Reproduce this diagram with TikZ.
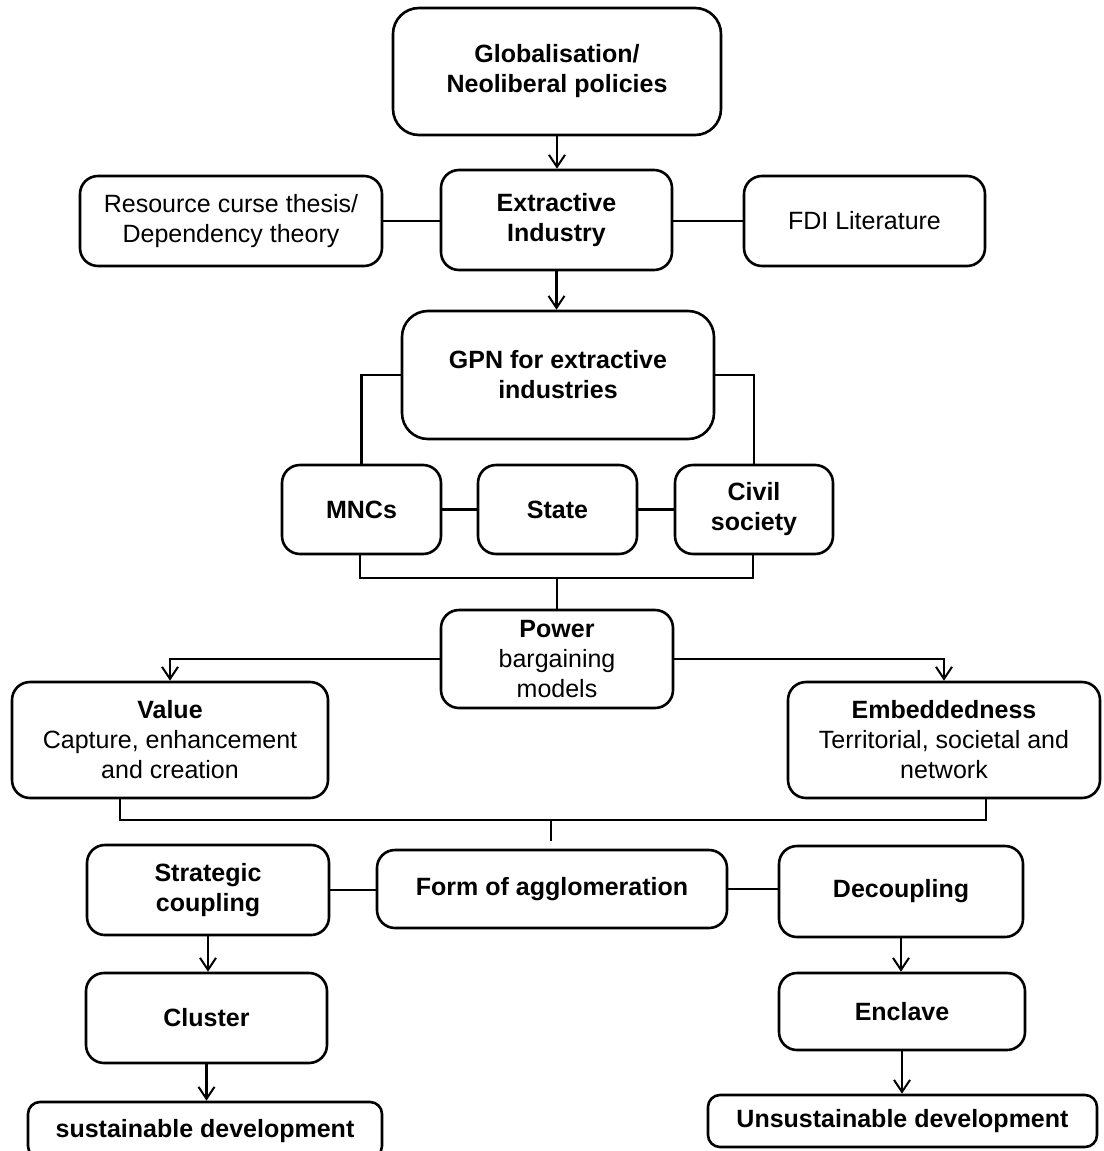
\documentclass[tikz,border=0pt]{standalone}
\usepackage{fontspec}
\setmainfont{Liberation Sans}
\usetikzlibrary{arrows.meta}
\begin{document}
\begin{tikzpicture}[x=1pt,y=-1pt,
  box/.style={draw,line width=2.6pt,rounded corners=18pt,align=center,inner sep=0pt,
    font=\fontsize{25}{30}\selectfont},
  wire/.style={line width=2.4pt},
  arr/.style={wire,-{Straight Barb[length=12pt,width=16pt,line width=2pt]}}]
\useasboundingbox (0,0) rectangle (1103,1151);

% boxes
\node[box,rounded corners=26pt,minimum width=328pt,minimum height=127pt] (glob) at (557,71.5) {\bfseries Globalisation/\\\bfseries Neoliberal policies};
\node[box,minimum width=302pt,minimum height=90pt] (res) at (231,221) {Resource curse thesis/\\Dependency theory};
\node[box,minimum width=231pt,minimum height=100pt] (ext) at (556.5,220) {\bfseries Extractive\\\bfseries Industry};
\node[box,minimum width=241pt,minimum height=90pt] (fdi) at (864.5,221) {FDI Literature};
\node[box,rounded corners=26pt,minimum width=312pt,minimum height=128pt] (gpn) at (558,375) {\bfseries GPN for extractive\\\bfseries industries};
\node[box,minimum width=159pt,minimum height=89pt] (mnc) at (361.5,509.5) {\bfseries MNCs};
\node[box,minimum width=159pt,minimum height=89pt] (state) at (557.5,509.5) {\bfseries State};
\node[box,minimum width=158pt,minimum height=89pt] (civil) at (754,509.5) {\bfseries Civil\\\bfseries society};
\node[box,minimum width=232pt,minimum height=98pt] (power) at (557,659) {\bfseries Power\\bargaining\\models};
\node[box,minimum width=316pt,minimum height=116pt] (value) at (170,740) {\bfseries Value\\Capture, enhancement\\and creation};
\node[box,minimum width=312pt,minimum height=116pt] (embed) at (944,740) {\bfseries Embeddedness\\Territorial, societal and\\network};
\node[box,minimum width=242pt,minimum height=90pt] (strat) at (208,890) {\bfseries Strategic\\\bfseries coupling};
\node[box,minimum width=350pt,minimum height=78pt] (form) at (552,889) {\bfseries Form of agglomeration};
\node[box,minimum width=244pt,minimum height=91pt] (decoup) at (901,891.5) {\bfseries Decoupling};
\node[box,minimum width=241pt,minimum height=90pt] (cluster) at (206.5,1018) {\bfseries Cluster};
\node[box,minimum width=246pt,minimum height=77pt] (enclave) at (902,1011.5) {\bfseries Enclave};
\node[box,rounded corners=12pt,minimum width=354pt,minimum height=56pt,text depth=0pt] (sust) at (205,1130) {\raisebox{3pt}{\bfseries sustainable development}};
\node[box,rounded corners=12pt,minimum width=389pt,minimum height=52pt] (unsust) at (902.5,1121) {\bfseries Unsustainable development};

% arrows down the main column
\draw[arr] (glob.south) -- (glob.south |- ext.north);
\draw[arr] (ext.south) -- (ext.south |- gpn.north);

% side links of the extractive industry
\draw[wire] (res.east) -- (res.east -| ext.west);
\draw[wire] (ext.east |- fdi.west) -- (fdi.west);

% GPN actors
\draw[wire] (gpn.west) -| (mnc.north);
\draw[wire] (gpn.east) -| (civil.north);
\draw[wire] (mnc.east) -- (state.west);
\draw[wire] (state.east) -- (civil.west);

% actors joined towards power
\coordinate (actj) at (557,578);
\draw[wire] ([xshift=-1.5pt]mnc.south) |- (actj) -| ([xshift=-1pt]civil.south);
\draw[wire] (actj) -- (power.north);

% power splits into value and embeddedness
\draw[arr] (power.west) -| (value.north);
\draw[arr] (power.east) -| (embed.north);

% value and embeddedness joined
\coordinate (vej) at (551,820);
\coordinate (vend) at (551,841);
\draw[wire] ([xshift=-50pt]value.south) |- (vej) -| ([xshift=42pt]embed.south);
\draw[wire] (vej) -- (vend);

% forms of agglomeration
\draw[wire] (strat.east) -- (strat.east -| form.west);
\draw[wire] (form.east) -- (form.east -| decoup.west);
\draw[arr] (strat.south) -- (strat.south |- cluster.north);
\draw[arr] (cluster.south) -- (cluster.south |- sust.north);
\draw[arr] (decoup.south) -- (decoup.south |- enclave.north);
\draw[arr] (enclave.south) -- (enclave.south |- unsust.north);
\end{tikzpicture}
\end{document}
